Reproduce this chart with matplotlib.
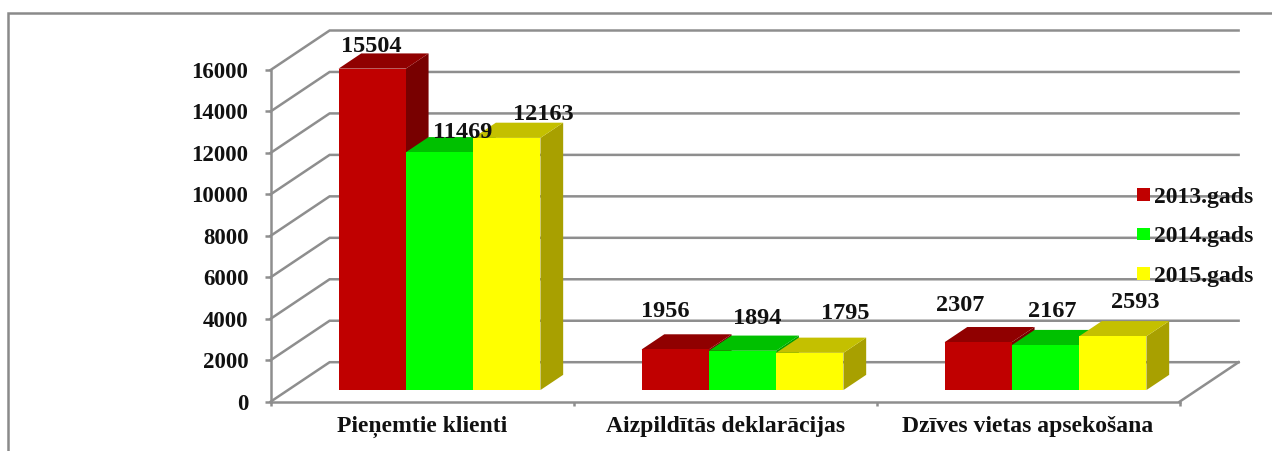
import matplotlib
matplotlib.use('Agg')
import matplotlib.pyplot as plt
from matplotlib.patches import Patch, Polygon

categories = ['Pieņemtie klienti', 'Aizpildītās deklarācijas', 'Dzīves vietas apsekošana']
years = ['2013.gads', '2014.gads', '2015.gads']
values_2013 = [15504, 1956, 2307]
values_2014 = [11469, 1894, 2167]
values_2015 = [12163, 1795, 2593]
y_ticks = [0, 2000, 4000, 6000, 8000, 10000, 12000, 14000, 16000]

# front, top, side colours for each series
colors_2013 = ('#C00000', '#900000', '#780000')
colors_2014 = ('#00FF00', '#00C000', '#00A000')
colors_2015 = ('#FFFF00', '#C4C000', '#A8A000')

# hand placed data labels, pixels from the middle of the bar's top edge
offsets_2013 = [(-1, 22), (-10, 38), (-18, 37)]
offsets_2014 = [(23, 20), (15, 32), (7, 34)]
offsets_2015 = [(37, 23), (35, 39), (22, 34)]

W, H = 1272, 451
GRID = '#8E8E8E'
FONT = 'Liberation Serif'

fig = plt.figure(figsize=(W / 100, H / 100), dpi=100)
ax = fig.add_axes([270.6 / W, (H - 401.7) / H, 909 / W, 331.7 / H])
ax.set_xlim(0, 3)
ax.set_ylim(0, 16000)
ax.patch.set_visible(False)

# 3d look: how far the back wall is shifted from the front plane
DX = 59 / 303
DY = 39.5 * 16000 / 331.7
BAR_NEAR = 0.295
BAR_FAR = 0.68
BAR_W = 67.3 / 303


def depth(x, y, d):
    return (x + d * DX, y + d * DY)


# walls and floor
for v in y_ticks:
    ax.plot(*zip(depth(0, v, 0), depth(0, v, 1), depth(3, v, 1)),
            color=GRID, lw=1.8, clip_on=False, zorder=1, solid_joinstyle='miter')
ax.plot(*zip(depth(3, 0, 0), depth(3, 0, 1)), color=GRID, lw=1.8, clip_on=False, zorder=1)

# bars, left to right so that each one covers the side of the one before
series = [(values_2013, colors_2013, offsets_2013),
          (values_2014, colors_2014, offsets_2014),
          (values_2015, colors_2015, offsets_2015)]
z = 2
for c in range(len(categories)):
    for s, (vals, cols, offs) in enumerate(series):
        x0 = c + 0.5 + (s - 1.5) * BAR_W
        x1 = x0 + BAR_W
        v = vals[c]
        side = [depth(x1, 0, BAR_NEAR), depth(x1, 0, BAR_FAR),
                depth(x1, v, BAR_FAR), depth(x1, v, BAR_NEAR)]
        top = [depth(x0, v, BAR_NEAR), depth(x1, v, BAR_NEAR),
               depth(x1, v, BAR_FAR), depth(x0, v, BAR_FAR)]
        front = [depth(x0, 0, BAR_NEAR), depth(x1, 0, BAR_NEAR),
                 depth(x1, v, BAR_NEAR), depth(x0, v, BAR_NEAR)]
        ax.add_patch(Polygon(side, facecolor=cols[2], edgecolor='none', clip_on=False, zorder=z))
        ax.add_patch(Polygon(top, facecolor=cols[1], edgecolor='none', clip_on=False, zorder=z))
        ax.add_patch(Polygon(front, facecolor=cols[0], edgecolor='none', clip_on=False, zorder=z))
        z += 1
        ax.annotate(str(v), depth(x0 + BAR_W / 2, v, BAR_NEAR),
                    xytext=(offs[c][0] * 0.72, offs[c][1] * 0.72), textcoords='offset points',
                    ha='center', va='center', fontsize=17.5, fontweight='bold',
                    family=FONT, color='#111111', zorder=50, annotation_clip=False)

# axes
for name in ['top', 'right']:
    ax.spines[name].set_visible(False)
for name in ['left', 'bottom']:
    ax.spines[name].set_color(GRID)
    ax.spines[name].set_linewidth(1.8)
    ax.spines[name].set_zorder(1)

ax.set_yticks(y_ticks)
ax.set_yticklabels([str(v) for v in y_ticks], fontsize=16.5, fontweight='bold',
                   family=FONT, color='#111111')
ax.tick_params(axis='y', length=4, width=1.8, color=GRID, pad=12)
ax.set_xticks([0, 1, 2, 3])
ax.set_xticklabels([])
ax.tick_params(axis='x', which='major', length=3, width=1.8, color=GRID)
ax.set_xticks([0.5, 1.5, 2.5], minor=True)
ax.set_xticklabels(categories, minor=True, fontsize=17, fontweight='bold',
                   family=FONT, color='#111111')
ax.tick_params(axis='x', which='minor', length=0, pad=10.5)

handles = [Patch(facecolor=colors_2013[0], label=years[0]),
           Patch(facecolor=colors_2014[0], label=years[1]),
           Patch(facecolor=colors_2015[0], label=years[2])]
leg = fig.legend(handles=handles, loc='upper left', bbox_to_anchor=(1137 / W, (H - 187) / H),
                 frameon=False, handlelength=0.55, handleheight=0.42, handletextpad=0.17,
                 labelspacing=0.78, borderaxespad=0, borderpad=0,
                 prop={'family': FONT, 'weight': 'bold', 'size': 17})
for t in leg.get_texts():
    t.set_color('#111111')

# outer frame, only left and top are on the picture
fig.add_artist(plt.Line2D([8 / W, 8 / W, 1], [0, (H - 13) / H, (H - 13) / H],
                          color='#8A8A8A', lw=1.8, solid_joinstyle='miter'))

plt.savefig('out.png', dpi=100)
